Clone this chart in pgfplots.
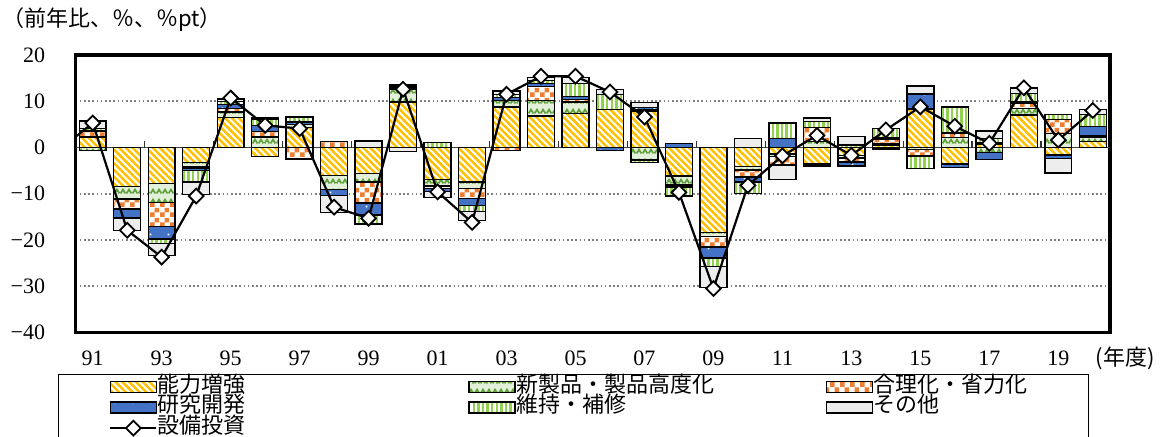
\documentclass[border=0pt]{standalone}
\usepackage{pgfplots}
\pgfplotsset{compat=1.18}
\usepackage{pgfplotstable}
\usepackage{fontspec}
\setmainfont{Liberation Serif}
\newfontfamily\jp{Noto Sans CJK JP}
\usetikzlibrary{patterns,patterns.meta}
\definecolor{cY}{HTML}{FFC000}
\definecolor{cW}{HTML}{5FA03A}
\definecolor{cWbg}{HTML}{E2F0D9}
\definecolor{cO}{HTML}{ED7D31}
\definecolor{cB}{HTML}{4472C4}
\definecolor{cG}{HTML}{92D050}
\definecolor{cR}{HTML}{EDEDED}

\pgfdeclarepatternformonly{wavy}{\pgfqpoint{-0.5pt}{-0.5pt}}{\pgfqpoint{6.5pt}{5.5pt}}{\pgfqpoint{6pt}{5pt}}{%
  \pgfsetlinewidth{0.85pt}%
  \pgfpathmoveto{\pgfqpoint{0.3pt}{1.3pt}}\pgfpathlineto{\pgfqpoint{1.5pt}{3.2pt}}\pgfpathlineto{\pgfqpoint{2.7pt}{1.3pt}}%
  \pgfpathmoveto{\pgfqpoint{3.3pt}{1.3pt}}\pgfpathlineto{\pgfqpoint{4.5pt}{3.2pt}}\pgfpathlineto{\pgfqpoint{5.7pt}{1.3pt}}%
  \pgfusepath{stroke}}
\pgfdeclarepatternformonly{checker}{\pgfpointorigin}{\pgfqpoint{5pt}{5pt}}{\pgfqpoint{5pt}{5pt}}{%
  \pgfpathrectangle{\pgfpointorigin}{\pgfqpoint{2.5pt}{2.5pt}}%
  \pgfpathrectangle{\pgfqpoint{2.5pt}{2.5pt}}{\pgfqpoint{2.5pt}{2.5pt}}%
  \pgfusepath{fill}}
\pgfdeclarepatternformonly{bdots}{\pgfpointorigin}{\pgfqpoint{9pt}{7pt}}{\pgfqpoint{9pt}{7pt}}{%
  \pgfpathrectangle{\pgfqpoint{3pt}{3pt}}{\pgfqpoint{0.9pt}{0.9pt}}%
  \pgfusepath{fill}}

\tikzset{
  sY/.style={draw=black, line width=0.7pt, preaction={fill=white}, pattern={Lines[angle=-45,distance=2.4pt,line width=1.25pt]}, pattern color=cY},
  sW/.style={draw=black, line width=0.7pt, preaction={fill=cWbg}, pattern=wavy, pattern color=cW},
  sO/.style={draw=black, line width=0.7pt, preaction={fill=white}, pattern=checker, pattern color=cO},
  sB/.style={draw=black, line width=0.7pt, preaction={fill=cB}, pattern=bdots, pattern color=white},
  sG/.style={draw=black, line width=0.7pt, preaction={fill=white}, pattern={Lines[angle=90,distance=2.3pt,line width=1.2pt]}, pattern color=cG},
  sR/.style={draw=black, line width=0.7pt, fill=cR},
}

\pgfplotsset{
  base/.style={scale only axis, width=517.25pt, height=138.75pt,
    at={(37.75pt,51.75pt)}, anchor=south west,
    xmin=0.5, xmax=30.5, ymin=-40, ymax=20},
  barleg/.style={legend image code/.code={\draw[##1] (0pt,-2.75pt) rectangle (23pt,2.75pt);}},
  lineleg/.style={legend image code/.code={\draw[mark repeat=2,mark phase=2,##1] plot coordinates {(0pt,0pt) (11.5pt,0pt) (23pt,0pt)};}},
  lineS/.style={black, line width=1.1pt, mark=square*, mark size=2.6pt,
    mark options={rotate=45, fill=white, draw=black, line width=0.9pt, solid}},
}

\pgfplotstableread{
x Yp Yn Wp Wn Op On Bp Bn Gp Gn Rp Rn L
1 2.3 0 0 -0.6 1.1 0 0.3 0 0.4 0 1.6 0 5.3
2 0 -8.4 0 -2.7 0 -2.2 0 -1.9 0 0 0 -2.8 -17.9
3 0 -7.8 0 -4.1 0 -5.2 0 -2.7 0 -0.9 0 -2.6 -23.7
4 0 -3.3 0 -0.9 0 -0.3 0 -0.5 0 -2.5 0 -2.6 -10.5
5 6.5 0 1.2 0 0.7 0 0.9 0 0.6 0 0.6 0 10.7
6 0 -1.9 2.3 0 1.2 0 1.3 0 1.4 0 0.3 0 4.8
7 4.3 0 0.7 0 0 -2.5 0.5 0 1.0 0 0.2 0 4.1
8 0 -6.0 0 -3.1 1.3 0 0 -1.3 0 0 0 -3.6 -12.9
9 0 -5.6 0 -1.9 0 -4.5 0 -2.6 0 -1.9 1.4 0 -15.3
10 9.8 0 2.7 0 0.3 0 0.3 0 0.4 0 0 -0.9 12.6
11 0 -6.9 0 -1.4 0 -0.6 0 -0.6 1.1 0 0 -1.3 -9.6
12 0 -7.5 0 -1.4 0 -2.1 0 -1.6 0 -1.2 0 -2.0 -16.2
13 8.8 0 1.4 0 0 -0.7 0.6 0 0.7 0 0.7 0 11.5
14 6.8 0 3.4 0 3.0 0 0.6 0 0.7 0 0.6 0 15.4
15 7.3 0 2.5 0 0.6 0 0.6 0 2.8 0 1.4 0 15.4
16 8.2 0 0 0 0 0 0 -0.7 3.2 0 1.2 0 12.0
17 7.9 0 0 -2.7 0.3 0 0.4 0 0 -0.6 1.1 0 6.6
18 0 -6.2 0 -1.9 0 -0.4 0.9 0 0 -2.0 0 0 -9.7
19 0 -18.4 0 -0.8 0 -2.3 0 -2.4 0 -1.8 0 -4.6 -30.5
20 0 -4.1 0 -0.8 0 -1.5 0 -1.1 0 -2.5 2.0 0 -8.2
21 0 -1.4 0 -0.6 0 -1.8 1.9 0 3.4 0 0 -3.1 -1.8
22 0 -3.6 1.3 0 3.0 0 0 -0.4 1.3 0 0.8 0 2.6
23 0 -1.7 0 -0.6 0 -0.8 0 -0.9 0.5 0 1.9 0 -1.7
24 0.4 0 0.4 0 1.0 0 0.4 0 1.9 0 0 -0.3 3.8
25 8.3 0 0 -0.4 0 -1.4 3.3 0 0 -2.7 1.7 0 8.8
26 0 -3.6 2.2 0 0.9 0 0 -0.7 5.7 0 0 0 4.6
27 0.8 0 0 -1.1 0.3 0 0 -1.5 0.9 0 1.6 0 0.9
28 7.0 0 1.4 0 1.2 0 0.3 0 1.8 0 1.2 0 12.9
29 0 -1.6 3.0 0 3.0 0 0 -0.8 1.2 0 0 -3.1 1.6
30 1.3 0 0.9 0 0.3 0 2.1 0 2.5 0 1.1 0 8.0
}\data

\begin{document}
\begin{tikzpicture}
\useasboundingbox (0,0) rectangle (580pt,218pt);

% base axis: frame, grid, labels, legend
\begin{axis}[base,
  axis line style={line width=1.6pt},
  ytick={-40,-30,-20,-10,0,10,20},
  yticklabels={−40,−30,−20,−10,0,10,20},
  xtick={1,3,...,29},
  xticklabels={91,93,95,97,99,01,03,05,07,09,11,13,15,17,19},
  major tick length=0pt,
  tick label style={font=\fontsize{11}{12}\selectfont},
  yticklabel style={anchor=east, inner sep=0pt, xshift=-15pt},
  xticklabel style={anchor=center, inner sep=0pt, yshift=-13pt},
  ymajorgrids,
  grid style={gray, line width=0.8pt, dash pattern=on 0.8pt off 1.3pt},
  extra y ticks={0}, extra y tick labels={},
  extra y tick style={grid=major, major grid style={solid, black!75, line width=0.8pt}},
  legend columns=3,
  legend cell align=left,
  legend style={at={(axis description cs:-0.0174,-0.148)}, anchor=north west,
    draw=black, line width=0.6pt, inner xsep=25.5pt, inner ysep=1.5pt,
    row sep=0.25pt, font=\jp\fontsize{11}{11}\selectfont,
    nodes={inner sep=0pt, text height=7.5pt, text depth=2.5pt},
    /tikz/every even column/.append style={column sep=1pt}},
]
\addplot[ycomb, black!80, line width=0.6pt, no marks, forget plot] coordinates {
 (2.5,1.3) (4.5,1.3) (6.5,1.3) (8.5,1.3) (10.5,1.3) (12.5,1.3) (14.5,1.3)
 (16.5,1.3) (18.5,1.3) (20.5,1.3) (22.5,1.3) (24.5,1.3) (26.5,1.3) (28.5,1.3)};
\addlegendimage{sY, barleg}\addlegendentry{\makebox[154pt][l]{能力増強}}
\addlegendimage{sW, barleg}\addlegendentry{\makebox[154pt][l]{新製品・製品高度化}}
\addlegendimage{sO, barleg}\addlegendentry{\makebox[82pt][l]{合理化・省力化}}
\addlegendimage{sB, barleg}\addlegendentry{\makebox[154pt][l]{研究開発}}
\addlegendimage{sG, barleg}\addlegendentry{\makebox[154pt][l]{維持・補修}}
\addlegendimage{sR, barleg}\addlegendentry{\makebox[82pt][l]{その他}}
\addlegendimage{lineS, lineleg}\addlegendentry{\makebox[154pt][l]{設備投資}}
\end{axis}

% positive stacks
\begin{axis}[base, hide axis, ybar stacked, bar width=0.78]
\addplot[sY] table[x=x,y=Yp]{\data};
\addplot[sW] table[x=x,y=Wp]{\data};
\addplot[sO] table[x=x,y=Op]{\data};
\addplot[sB] table[x=x,y=Bp]{\data};
\addplot[sG] table[x=x,y=Gp]{\data};
\addplot[sR] table[x=x,y=Rp]{\data};
\end{axis}

% negative stacks
\begin{axis}[base, hide axis, ybar stacked, bar width=0.78]
\addplot[sY] table[x=x,y=Yn]{\data};
\addplot[sW] table[x=x,y=Wn]{\data};
\addplot[sO] table[x=x,y=On]{\data};
\addplot[sB] table[x=x,y=Bn]{\data};
\addplot[sG] table[x=x,y=Gn]{\data};
\addplot[sR] table[x=x,y=Rn]{\data};
\end{axis}

% line
\begin{axis}[base, hide axis]
\addplot[black, line width=1.1pt] coordinates {(0.5,2.3) (1,5.3)};
\addplot[lineS] table[x=x,y=L]{\data};
\end{axis}

\node[anchor=west, inner sep=0pt, font=\jp\fontsize{11}{12}\selectfont] at (1pt,208pt) {（前年比、％、％pt）};
\node[inner sep=0pt, font=\jp\fontsize{11}{12}\selectfont] at (562.5pt,39pt) {(年度)};
\end{tikzpicture}
\end{document}
